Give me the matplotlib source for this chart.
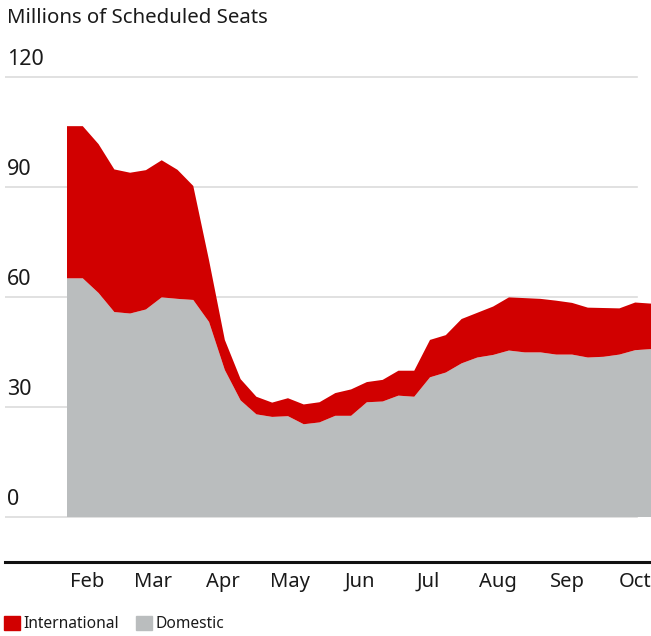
import pandas as pd
import numpy as np
import matplotlib
matplotlib.use("Agg")
import matplotlib.pyplot as plt
from matplotlib.patches import Patch

# Weekly scheduled seats (millions)
start_date = "2020-01-23"
n_weeks = 38
domestic = [65.1, 65.1, 61.1, 55.9, 55.5, 56.6, 59.9, 59.5, 59.2, 53.2,
            40.1, 31.8, 28.0, 27.3, 27.5, 25.3, 25.8, 27.6, 27.6, 31.3,
            31.5, 33.1, 32.8, 38.1, 39.4, 41.9, 43.5, 44.2, 45.4, 44.9,
            44.9, 44.3, 44.3, 43.5, 43.7, 44.3, 45.5, 45.8]
international = [41.5, 41.5, 40.6, 38.9, 38.4, 38.0, 37.4, 35.2, 31.1, 16.8,
                 8.2, 5.8, 4.8, 3.9, 4.9, 5.4, 5.5, 6.2, 7.2, 5.5,
                 5.9, 6.8, 7.1, 10.2, 10.2, 12.1, 12.2, 13.2, 14.5, 14.8,
                 14.6, 14.7, 14.1, 13.6, 13.3, 12.6, 13.0, 12.4]
y_ticks = [0, 30, 60, 90, 120]
month_ticks = ["2020-02-01", "2020-03-01", "2020-04-01", "2020-05-01", "2020-06-01",
               "2020-07-01", "2020-08-01", "2020-09-01", "2020-10-01"]
month_labels = ["Feb", "Mar", "Apr", "May", "Jun", "Jul", "Aug", "Sep", "Oct"]

RED = "#d10000"
GRAY = "#babdbe"
GRID = "#dcdcdc"
TEXT = "#1a1a1a"

plt.rcParams["font.family"] = ["Noto Sans", "DejaVu Sans"]

dates = pd.date_range(start_date, periods=n_weeks, freq="7D")

W, H = 651, 636
fig = plt.figure(figsize=(W / 100, H / 100), dpi=100)
ax = fig.add_axes([5 / W, (H - 562) / H, 646 / W, (562 - 40) / H])

ax.stackplot(dates, domestic, international, colors=[GRAY, RED],
             linewidth=0, zorder=2)

# gridlines and their labels sitting above them
for v in y_ticks:
    ax.axhline(v, xmin=0, xmax=(637 - 5) / 646, color=GRID, lw=1.2, zorder=1)
    ax.text(0.003, v + 4.9, str(v), transform=ax.get_yaxis_transform(),
            ha="left", va="center", fontsize=15.5, color=TEXT)

px_day = 584 / ((n_weeks - 1) * 7)
ax.set_xlim(dates[0] - pd.Timedelta(days=62 / px_day), dates[-1])
ax.set_ylim(-45 / 3.6667, 130.1)

ax.set_xticks(pd.to_datetime(month_ticks))
ax.set_xticklabels(month_labels, fontsize=14.5, color=TEXT)
ax.tick_params(axis="x", length=0, pad=7)
ax.set_yticks([])

for s in ["top", "left", "right"]:
    ax.spines[s].set_visible(False)
ax.spines["bottom"].set_linewidth(2.2)
ax.spines["bottom"].set_color("#111111")

fig.text(7 / W, 1 - 18 / H, "Millions of Scheduled Seats", ha="left", va="center",
         fontsize=14.7, color=TEXT)

handles = [Patch(color=RED, label="International"), Patch(color=GRAY, label="Domestic")]
fig.legend(handles=handles, loc="center left", bbox_to_anchor=(4 / W, 1 - 624 / H),
           ncol=2, frameon=False, fontsize=11.2, handlelength=1.0, handleheight=1.0,
           handletextpad=0.25, columnspacing=1.1, borderpad=0, borderaxespad=0,
           labelcolor=TEXT)

fig.savefig("out.png", dpi=100)
